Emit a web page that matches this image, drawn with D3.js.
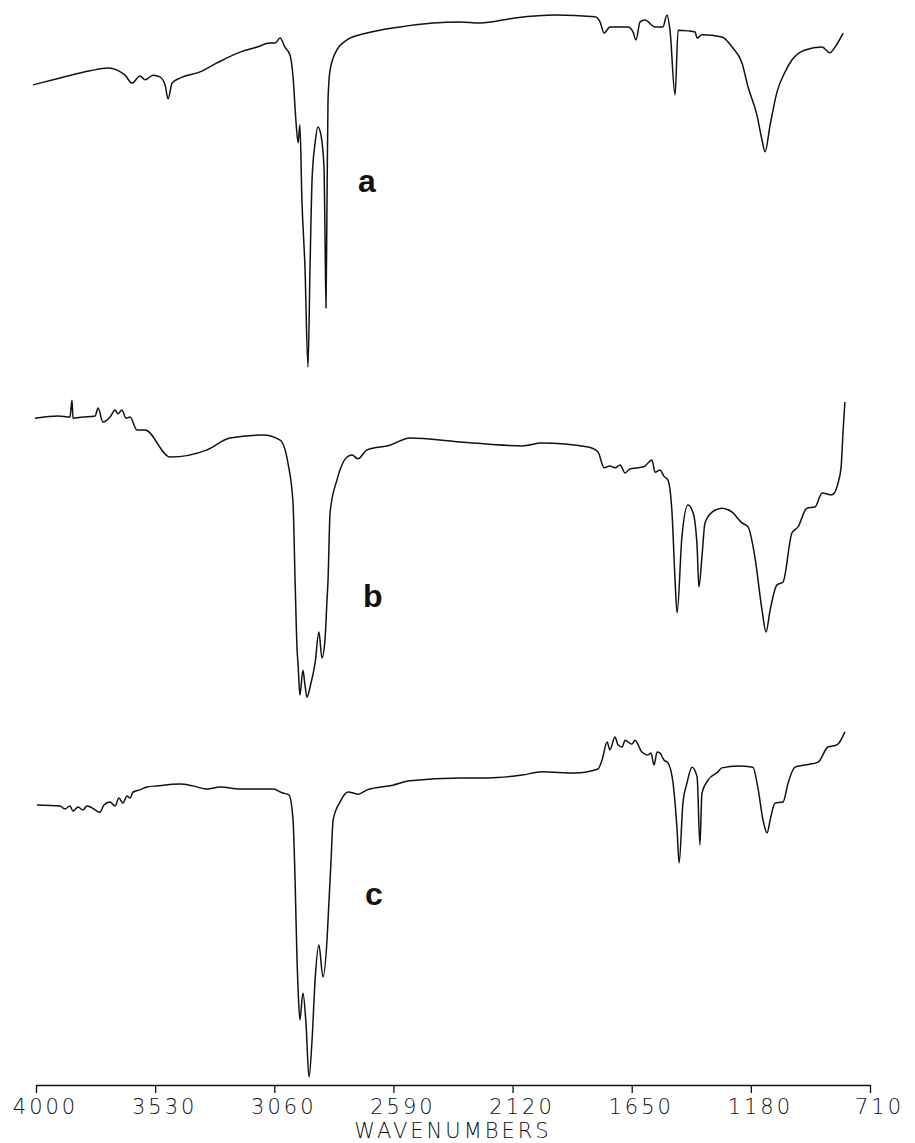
<!DOCTYPE html>
<html>
<head>
<meta charset="utf-8">
<script src="https://cdn.jsdelivr.net/npm/d3@7"></script>
<style>
  body { margin: 0; background: #fff; }
</style>
</head>
<body>
<div id="chart"></div>
<script>
// spectrum a
const aWave = [4012, 3905, 3787, 3716, 3680, 3649, 3621, 3590, 3570, 3538, 3511, 3491, 3479, 3463, 3432, 3353, 3286, 3195, 3128, 3077, 3057, 3037, 3018, 2998, 2986, 2974, 2966, 2959, 2951, 2939, 2927, 2919, 2911, 2899, 2888, 2876, 2864, 2860, 2856, 2852, 2848, 2840, 2813, 2773, 2694, 2564, 2434, 2327, 2249, 2110, 1953, 1795, 1775, 1759, 1736, 1665, 1645, 1633, 1617, 1598, 1558, 1527, 1511, 1499, 1479, 1467, 1428, 1400, 1392, 1373, 1294, 1254, 1215, 1191, 1156, 1136, 1124, 1104, 1077, 1045, 1018, 966, 899, 868, 848, 816];
const aT = [79.2, 81.1, 83.1, 83.9, 83.3, 81.9, 79.7, 81.7, 80.6, 81.9, 81.4, 79.2, 75.3, 79.7, 81.1, 82.8, 85.3, 88.3, 89.7, 90.8, 90.8, 92.2, 89.7, 87.5, 81.4, 68.6, 63.1, 68.1, 47.2, 28.6, 0.8, 28.6, 52.8, 63.1, 67.5, 65.3, 56.4, 38.1, 17.2, 47.2, 75, 83.3, 88.9, 91.7, 93.6, 95.3, 96.4, 96.7, 96.4, 97.8, 98.6, 98.1, 96.7, 93.6, 95.3, 95.3, 93.9, 91.7, 96.7, 97.2, 95.3, 95.3, 98.6, 94.4, 76.4, 94.4, 94.2, 93.9, 92.2, 93.1, 92.5, 89.7, 85.3, 78.6, 70.8, 63.9, 60.6, 68.1, 77.2, 82.8, 86.1, 88.9, 89.7, 88.1, 89.7, 93.6];

// spectrum b
const bWave = [4004, 3913, 3866, 3858, 3854, 3815, 3767, 3755, 3736, 3708, 3688, 3677, 3661, 3645, 3629, 3602, 3570, 3471, 3325, 3235, 3105, 3037, 3006, 2986, 2978, 2970, 2966, 2959, 2947, 2939, 2931, 2919, 2899, 2884, 2872, 2860, 2852, 2848, 2840, 2813, 2773, 2753, 2730, 2694, 2604, 2525, 2327, 2083, 2004, 1822, 1783, 1759, 1736, 1716, 1696, 1676, 1657, 1625, 1598, 1570, 1558, 1538, 1523, 1507, 1491, 1479, 1471, 1452, 1428, 1408, 1392, 1385, 1373, 1361, 1333, 1294, 1254, 1215, 1191, 1164, 1136, 1120, 1104, 1077, 1053, 1018, 994, 959, 927, 899, 860, 836, 824, 816, 809];
const bT = [89.4, 90, 89.7, 94.4, 89.4, 89.7, 90, 92.2, 88.3, 89.7, 91.7, 90.6, 91.7, 89.4, 89.7, 86.1, 86.1, 78.6, 80.6, 83.9, 84.7, 83.3, 76.9, 65.8, 44.4, 25, 20.8, 12.5, 19.4, 15.3, 11.9, 14.7, 21.4, 30, 22.8, 27.8, 38.9, 44.4, 63.1, 72.2, 78.6, 79.2, 78.1, 80.6, 81.9, 83.9, 82.8, 81.7, 82.5, 81.4, 80, 75.6, 76.1, 75.6, 76.4, 74.2, 75.3, 75.6, 76.1, 77.8, 74.4, 75, 73.3, 72.2, 63.1, 44.4, 35.3, 56.4, 65.3, 63.1, 53.6, 42.5, 50.8, 60.3, 63.3, 64.4, 63.3, 60.3, 59.2, 50.8, 36.1, 30, 36.1, 43.1, 43.9, 57.5, 59.2, 64.4, 64.7, 68.6, 68.1, 71.4, 75.8, 86.1, 93.9];

// spectrum c
const cWave = [3996, 3905, 3886, 3866, 3854, 3834, 3815, 3799, 3779, 3748, 3732, 3708, 3688, 3673, 3657, 3641, 3629, 3617, 3590, 3562, 3523, 3432, 3381, 3325, 3274, 3195, 3065, 3026, 3002, 2986, 2978, 2970, 2966, 2959, 2947, 2935, 2923, 2911, 2899, 2884, 2868, 2852, 2844, 2836, 2828, 2801, 2769, 2730, 2694, 2592, 2525, 2327, 2217, 2083, 2004, 1874, 1783, 1767, 1747, 1736, 1716, 1704, 1688, 1676, 1665, 1649, 1637, 1610, 1586, 1574, 1562, 1550, 1538, 1523, 1507, 1487, 1471, 1463, 1448, 1432, 1412, 1392, 1381, 1373, 1349, 1310, 1294, 1231, 1172, 1152, 1132, 1116, 1104, 1085, 1053, 1033, 1006, 966, 915, 876, 840, 809];
const cT = [76.4, 76.1, 75.3, 76.1, 74.7, 75.8, 75, 76.1, 75.6, 74.4, 76.4, 77.2, 76.1, 78.3, 76.9, 78.9, 78.3, 80, 80.6, 81.4, 81.7, 82.2, 81.7, 80.8, 81.4, 80.8, 80.8, 79.7, 79.2, 72.2, 55.6, 32.5, 25, 16.7, 24.2, 15.8, 0.8, 11.1, 27.8, 37.5, 28.6, 38.9, 50, 61.1, 72.2, 77.2, 80, 79.4, 80.6, 81.9, 83.1, 83.9, 83.9, 84.7, 85.6, 85.3, 86.4, 88.9, 93.9, 91.7, 95.3, 93.1, 92.5, 94.4, 93.9, 93.3, 94.4, 91.1, 90.3, 90.8, 87.5, 91.1, 90.8, 88.9, 88.1, 82.5, 69.4, 60.3, 76.9, 82.5, 86.9, 84.2, 65.3, 79.7, 83.3, 85.6, 86.7, 87.2, 86.9, 81.1, 72.2, 68.6, 72.2, 76.9, 77.2, 82.5, 86.9, 87.5, 88.3, 92.5, 93.1, 96.7];

const traceNames = ['a', 'b', 'c'];
const tickValues = [4000, 3530, 3060, 2590, 2120, 1650, 1180, 710];
const axisTitle = 'WAVENUMBERS';

const width = 915;
const height = 1143;
const axisY = 1085;
const panelTop = [10, 380, 720];
const panelHeight = 360;
const labelPos = [[358, 192], [363, 607], [365, 905]];

const svg = d3.select('#chart')
  .append('svg')
  .attr('width', width)
  .attr('height', height)
  .attr('viewBox', [0, 0, width, height]);

const x = d3.scaleLinear()
  .domain([4000, 710])
  .range([36, 870]);

const y = d3.scaleLinear()
  .domain([0, 100])
  .range([panelHeight, 0]);

const traces = [
  d3.zip(aWave, aT),
  d3.zip(bWave, bT),
  d3.zip(cWave, cT)
];

// pen-plotter look: smooth but no overshoot on the sharp bands
const line = d3.line()
  .x(d => x(d[0]))
  .y(d => y(d[1]))
  .curve(d3.curveMonotoneX);

traces.forEach((pts, i) => {
  const g = svg.append('g')
    .attr('transform', `translate(0,${panelTop[i]})`);
  g.append('path')
    .datum(pts)
    .attr('fill', 'none')
    .attr('stroke', '#111')
    .attr('stroke-width', 1.5)
    .attr('stroke-linejoin', 'round')
    .attr('d', line);

  svg.append('text')
    .attr('x', labelPos[i][0])
    .attr('y', labelPos[i][1])
    .attr('font-family', 'Liberation Sans, Arial, sans-serif')
    .attr('font-weight', 'bold')
    .attr('font-size', 32)
    .attr('fill', '#111')
    .text(traceNames[i]);
});

function xAxis(g) {
  g.attr('transform', `translate(0,${axisY})`)
    .call(d3.axisBottom(x)
      .tickValues(tickValues)
      .tickSizeInner(8)
      .tickSizeOuter(0)
      .tickPadding(6)
      .tickFormat(d3.format('d')))
    .call(g => g.select('.domain').attr('stroke', '#111').attr('stroke-width', 1.5))
    .call(g => g.selectAll('.tick line').attr('stroke', '#111').attr('stroke-width', 1.3))
    .call(g => g.selectAll('.tick text')
      .attr('fill', '#111')
      .attr('dx', 9)
      .attr('font-family', 'DejaVu Sans, sans-serif')
      .attr('font-weight', 200)
      .attr('font-size', 21)
      .attr('letter-spacing', 3));
}

svg.append('g').call(xAxis);

svg.append('text')
  .attr('x', 453)
  .attr('y', 1138)
  .attr('text-anchor', 'middle')
  .attr('font-family', 'DejaVu Sans, sans-serif')
  .attr('font-weight', 200)
  .attr('font-size', 21)
  .attr('letter-spacing', 3)
  .attr('fill', '#111')
  .text(axisTitle);
</script>
</body>
</html>
